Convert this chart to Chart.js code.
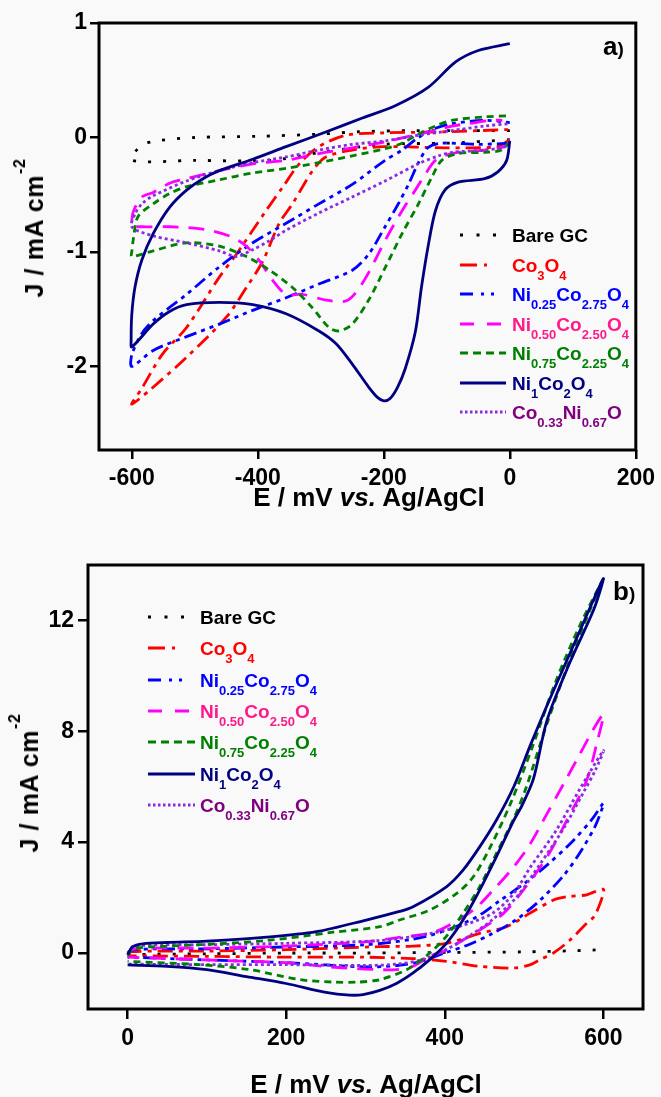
<!DOCTYPE html>
<html><head><meta charset="utf-8">
<script src="https://cdn.jsdelivr.net/npm/chart.js@4.4.1/dist/chart.umd.min.js"></script>
<style>
html,body{margin:0;padding:0;background:#f9f9f9;}
#wrap{position:relative;width:661px;height:1097px;overflow:hidden;font-family:"Liberation Sans",Arial,sans-serif;font-weight:bold;}
canvas{position:absolute;left:0;}
.t{position:absolute;white-space:nowrap;color:#000;}
.leg{position:absolute;white-space:nowrap;font-size:19px;line-height:19px;}
.leg sub{font-size:13px;vertical-align:-8px;line-height:0;}
.sw{position:absolute;}
.rot{position:absolute;white-space:nowrap;font-size:25px;line-height:26px;letter-spacing:0.6px;transform:translate(-50%,-50%) rotate(-90deg);}
.rot sup{font-size:16px;position:relative;top:-1px;line-height:0;vertical-align:top;margin-left:1px;}
.xt{position:absolute;white-space:nowrap;font-size:26px;line-height:26px;transform:translate(-50%,-50%);}
</style></head><body><div id="wrap">
<canvas id="ca" width="661" height="520" style="top:0"></canvas>
<canvas id="cb" width="661" height="577" style="top:520px"></canvas>
</div>
<script>
// ---------- tick labels ----------
const aTickX=[-600,-400,-200,0,200];
const aTickY=[-2,-1,0,1];
const bTickX=[0,200,400,600];
const bTickY=[0,4,8,12];

// ---------- legend names ----------
const seriesNames=['Bare GC','Co<sub>3</sub>O<sub>4</sub>','Ni<sub>0.25</sub>Co<sub>2.75</sub>O<sub>4</sub>','Ni<sub>0.50</sub>Co<sub>2.50</sub>O<sub>4</sub>','Ni<sub>0.75</sub>Co<sub>2.25</sub>O<sub>4</sub>','Ni<sub>1</sub>Co<sub>2</sub>O<sub>4</sub>','Co<sub>0.33</sub>Ni<sub>0.67</sub>O'];

// ---------- panel a) : E (mV) and J (mA cm-2) ----------
const aBareE=[0,-100,-200,-300,-380,-500,-600,-585,-560,-500,-400,-300,-240,-150,-60,0];
const aBareJ=[-0.02,-0.05,-0.06,-0.13,-0.2,-0.2,-0.2,-0.07,-0.03,0.0,0.01,0.03,0.05,0.06,0.06,0.06];

const aCo3O4E=[0,-20,-100,-200,-250,-292,-313,-345,-366,-392,-418,-450,-513,-570,-600,-585,-551,-513,-461,-434,-387,-360,-334,-303,-260,-200,-100,0];
const aCo3O4J=[-0.02,-0.08,-0.09,-0.08,-0.11,-0.17,-0.29,-0.58,-0.75,-1.08,-1.31,-1.57,-1.92,-2.2,-2.33,-2.2,-1.89,-1.66,-1.22,-1.02,-0.64,-0.43,-0.23,-0.08,0.02,0.04,0.05,0.07];

const aNi25E=[0,-50,-110,-130,-145,-160,-177,-198,-224,-250,-303,-355,-408,-461,-513,-566,-600,-600,-585,-566,-513,-461,-408,-355,-303,-250,-198,-171,-145,-118,-92,-40,0];
const aNi25J=[-0.05,-0.06,-0.05,-0.09,-0.22,-0.40,-0.58,-0.78,-1.02,-1.16,-1.28,-1.40,-1.51,-1.63,-1.74,-1.86,-2.0,-1.9,-1.72,-1.60,-1.37,-1.13,-0.92,-0.75,-0.58,-0.41,-0.20,-0.11,0.0,0.08,0.12,0.15,0.13];

const aNi50E=[0,-8,-40,-92,-118,-134,-150,-171,-198,-224,-245,-261,-292,-329,-355,-376,-397,-418,-445,-487,-540,-584,-600,-600,-597,-584,-566,-540,-513,-461,-408,-355,-303,-250,-200,-145,-118,-92,-66,-29,-12];
const aNi50J=[-0.03,-0.08,-0.11,-0.14,-0.20,-0.32,-0.46,-0.64,-0.90,-1.18,-1.36,-1.43,-1.42,-1.37,-1.37,-1.25,-1.08,-0.95,-0.86,-0.80,-0.78,-0.78,-0.77,-0.73,-0.64,-0.52,-0.48,-0.40,-0.36,-0.29,-0.23,-0.20,-0.14,-0.09,-0.04,0.03,0.06,0.10,0.12,0.15,0.15];

const aNi75E=[0,-13,-40,-82,-108,-124,-145,-171,-198,-224,-250,-271,-287,-313,-345,-381,-418,-461,-513,-566,-600,-600,-597,-590,-566,-540,-513,-461,-408,-355,-303,-250,-200,-171,-145,-118,-92,-40,0];
const aNi75J=[-0.03,-0.11,-0.13,-0.14,-0.20,-0.35,-0.58,-0.84,-1.14,-1.42,-1.63,-1.69,-1.66,-1.49,-1.31,-1.16,-1.04,-0.95,-0.92,-0.99,-1.04,-1.0,-0.87,-0.69,-0.58,-0.49,-0.43,-0.37,-0.31,-0.27,-0.22,-0.16,-0.10,-0.05,0.03,0.10,0.15,0.18,0.19];

const aNi1E=[0,-50,-86,-129,-181,-234,-291,-355,-408,-461,-487,-513,-540,-566,-584,-595,-600,-601,-600,-566,-540,-513,-461,-408,-355,-303,-276,-250,-224,-210,-200,-190,-178,-166,-150,-140,-129,-118,-103,-82,-40,-19,-5,0];
const aNi1J=[0.82,0.76,0.66,0.44,0.28,0.17,0.05,-0.08,-0.19,-0.29,-0.36,-0.46,-0.61,-0.84,-1.07,-1.31,-1.55,-1.77,-1.83,-1.63,-1.52,-1.46,-1.44,-1.46,-1.54,-1.69,-1.80,-1.98,-2.18,-2.27,-2.30,-2.28,-2.18,-2.02,-1.70,-1.30,-0.93,-0.64,-0.46,-0.39,-0.36,-0.30,-0.20,-0.03];

const aCoNiE=[0,-8,-40,-92,-113,-145,-198,-250,-303,-355,-381,-408,-434,-461,-513,-566,-600,-595,-584,-566,-513,-461,-408,-355,-303,-250,-198,-145,-92,-40,0];
const aCoNiJ=[-0.03,-0.08,-0.11,-0.13,-0.16,-0.23,-0.38,-0.52,-0.66,-0.81,-0.90,-0.98,-1.04,-0.99,-0.92,-0.86,-0.78,-0.67,-0.58,-0.51,-0.38,-0.29,-0.22,-0.17,-0.11,-0.06,-0.03,0.02,0.06,0.10,0.12];

// ---------- panel b) ----------
const bBareE=[0,100,200,300,400,500,560,600];
const bBareJ=[-0.05,-0.03,0.0,0.0,0.02,0.04,0.08,0.12];

const bCo3O4E=[0,5,100,200,318,360,402,444,478,507,537,554,579,600,596,588,579,558,537,520,508,487,444,402,360,300,200,100,0];
const bCo3O4J=[-0.05,0.05,0.07,0.12,0.23,0.25,0.35,0.71,0.95,1.43,1.91,2.03,2.1,2.3,1.8,1.31,1.07,0.47,0.0,-0.24,-0.42,-0.54,-0.48,-0.3,-0.2,-0.15,-0.15,-0.12,-0.1];

const bNi25E=[0,8,100,200,300,360,400,440,470,500,530,560,585,600,590,570,550,520,490,460,430,400,370,340,300,200,100,0];
const bNi25J=[-0.05,0.12,0.15,0.22,0.3,0.5,0.8,1.3,1.9,2.5,3.2,4.0,4.8,5.4,4.6,3.6,2.8,1.9,1.2,0.7,0.3,0.0,-0.3,-0.45,-0.5,-0.35,-0.25,-0.15];

const bNi50E=[0,8,100,200,300,339,381,402,436,461,487,508,529,550,567,590,600,592,579,554,529,499,474,444,423,402,381,360,339,300,255,200,100,0];
const bNi50J=[-0.05,0.15,0.18,0.25,0.4,0.55,0.71,0.95,1.55,2.27,3.11,3.95,5.03,6.11,7.0,8.2,8.6,7.6,6.23,4.79,3.47,2.27,1.43,0.83,0.47,0.11,-0.12,-0.48,-0.6,-0.58,-0.5,-0.35,-0.25,-0.15];

const bNi75E=[0,7,50,91,175,259,318,343,381,415,436,457,483,510,540,570,600,585,558,528,503,487,465,444,423,402,381,352,318,290,260,217,154,91,0];
const bNi75J=[-0.1,0.15,0.25,0.3,0.45,0.75,0.95,1.19,1.55,2.15,2.75,3.8,5.4,7.4,9.8,11.8,13.5,12.5,10.6,8.2,6.0,4.85,3.59,2.39,1.43,0.6,0.0,-0.6,-0.96,-1.05,-1.05,-0.96,-0.6,-0.42,-0.3];

const bNi1E=[0,6,19,50,100,175,238,301,343,360,402,423,444,465,487,508,530,550,570,590,600,588,558,529,512,497,487,465,444,423,402,381,360,339,318,297,280,250,200,150,100,50,0];
const bNi1J=[-0.05,0.22,0.33,0.38,0.43,0.57,0.77,1.19,1.5,1.67,2.39,2.99,3.83,4.79,6.0,7.5,9.0,10.3,11.6,12.9,13.5,12.4,10.5,8.4,6.3,5.3,4.79,3.47,2.27,1.19,0.35,-0.24,-0.72,-1.1,-1.35,-1.5,-1.52,-1.42,-1.1,-0.85,-0.6,-0.48,-0.43];

const bCoNiE=[0,8,100,200,318,381,423,461,487,508,540,570,600,590,575,550,520,490,460,430,400,370,340,300,200,100,0];
const bCoNiJ=[0.0,0.25,0.3,0.35,0.45,0.7,1.0,1.45,2.15,3.1,4.4,5.9,7.3,6.6,5.8,4.5,3.2,2.0,1.2,0.6,0.1,-0.25,-0.4,-0.45,-0.42,-0.42,-0.4];

// ---------- styles ----------
const ST=[
 {c:'#000000',t:'#000000',d:[3,12],sd:'3 13.5',cap:'butt'},
 {c:'#ff0000',t:'#ff0000',d:[15,6,4,6],sd:'17 7 3 30',cap:'butt'},
 {c:'#0000ff',t:'#0000ff',d:[13,5,4,5,4,5],sd:'13 8 3 7 3 30',cap:'butt'},
 {c:'#ff00ff',t:'#ff1a8c',d:[16,10],sd:'14 13 14 30',cap:'butt'},
 {c:'#008000',t:'#008000',d:[7,5],sd:'8 5',cap:'butt'},
 {c:'#000080',t:'#000080',d:[],sd:'',cap:'butt'},
 {c:'#8a2be2',t:'#800080',d:[3,3],sd:'2.5 2.5',cap:'butt'}
];

function pts(E,J){return E.map((e,i)=>({x:e,y:J[i]}));}
function ds(E,J,i){const s=ST[i];return {data:pts(E,J),showLine:true,borderColor:s.c,backgroundColor:s.c,borderWidth:2.8,borderDash:s.d,borderCapStyle:s.cap,pointRadius:0,tension:0.3,fill:false};}

const FONT='"Liberation Sans", Arial, sans-serif';
function scl(min,max,ticks,prop,val,tl,pad){
 return {type:'linear',min:min,max:max,
  afterBuildTicks:s=>{s.ticks=ticks.map(v=>({value:v}));},
  afterFit:s=>{s[prop]=val;},
  ticks:{color:'#000',font:{family:FONT,size:23,weight:'bold'},padding:pad,autoSkip:false,maxRotation:0,callback:v=>String(v)},
  grid:{drawOnChartArea:false,drawTicks:true,tickLength:tl,color:'#000',lineWidth:2.5},
  border:{display:false}};
}
const frame={id:'frame',afterDraw(c){const a=c.chartArea,x=c.ctx;x.save();x.strokeStyle='#000';x.lineWidth=3;x.strokeRect(a.left,a.top,a.right-a.left,a.bottom-a.top);x.restore();}};

function mk(id,sets,xs,ys,pad){
 return new Chart(document.getElementById(id),{type:'scatter',
  data:{datasets:sets},
  options:{responsive:false,animation:false,devicePixelRatio:1,
   layout:{padding:pad},
   plugins:{legend:{display:false},tooltip:{enabled:false}},
   scales:{x:xs,y:ys}},
  plugins:[frame]});
}

// order: first dataset drawn on top
mk('ca',[
  ds(aNi1E,aNi1J,5),ds(aCoNiE,aCoNiJ,6),ds(aNi75E,aNi75J,4),ds(aNi50E,aNi50J,3),ds(aNi25E,aNi25J,2),ds(aCo3O4E,aCo3O4J,1),ds(aBareE,aBareJ,0)
 ],
 scl(-652,200,aTickX,'height',70,9,6),
 scl(-2.73,1,aTickY,'width',99,9,3),
 {top:23,right:22,left:0,bottom:0});

mk('cb',[
  ds(bNi1E,bNi1J,5),ds(bNi75E,bNi75J,4),ds(bCoNiE,bCoNiJ,6),ds(bNi50E,bNi50J,3),ds(bNi25E,bNi25J,2),ds(bCo3O4E,bCo3O4J,1),ds(bBareE,bBareJ,0)
 ],
 scl(-50,650,bTickX,'height',88,10,6),
 scl(-2.02,14,bTickY,'width',88,10,4),
 {top:45,right:18,left:0,bottom:0});

// ---------- HTML text: titles, panel labels, legends ----------
const wrap=document.getElementById('wrap');
function add(html,cls,css){const d=document.createElement('div');d.className=cls;d.innerHTML=html;Object.assign(d.style,css);wrap.appendChild(d);return d;}
const yTitle='J / mA cm<sup>-2</sup>';
const xTitle='E / mV <i>vs.</i> Ag/AgCl';
add(yTitle,'rot',{left:'34px',top:'228px'});
add(xTitle,'xt',{left:'369px',top:'497px'});
add(yTitle,'rot',{left:'29px',top:'783px'});
add(xTitle,'xt',{left:'366px',top:'1084px'});
add('a<span style="font-size:19px">)</span>','t',{left:'603px',top:'33px',fontSize:'26px',lineHeight:'26px'});
add('b<span style="font-size:19px">)</span>','t',{left:'613px',top:'578px',fontSize:'26px',lineHeight:'26px'});

function legend(x0,len,tx,y0,dy){
 seriesNames.forEach((n,i)=>{
  const y=y0+i*dy, s=ST[i];
  const sv=document.createElementNS('http://www.w3.org/2000/svg','svg');
  sv.setAttribute('width',len);sv.setAttribute('height',8);sv.setAttribute('class','sw');
  sv.style.left=x0+'px';sv.style.top=(y-4)+'px';
  const l=document.createElementNS('http://www.w3.org/2000/svg','line');
  l.setAttribute('x1',0);l.setAttribute('x2',len);l.setAttribute('y1',4);l.setAttribute('y2',4);
  l.setAttribute('stroke',s.c);l.setAttribute('stroke-width',3);
  if(s.sd)l.setAttribute('stroke-dasharray',s.sd);
  sv.appendChild(l);wrap.appendChild(sv);
  add(n,'leg',{left:tx+'px',top:(y-9)+'px',color:s.t});
 });
}
legend(460,46,512,235,29.5);
legend(148,47,200,617,31.3);
</script>
</body></html>
